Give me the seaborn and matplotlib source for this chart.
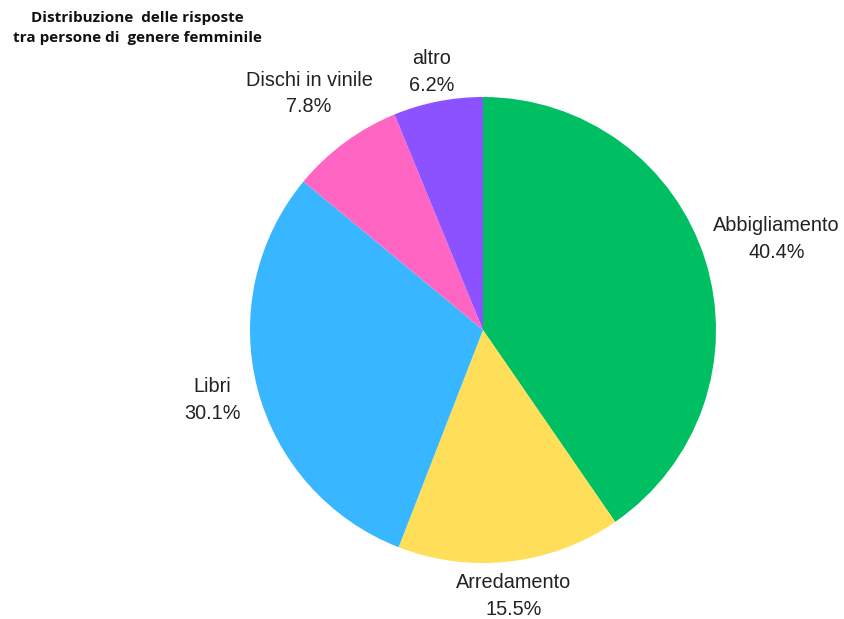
import numpy as np
import matplotlib
matplotlib.use("Agg")
import matplotlib.pyplot as plt
import seaborn as sns

# Dati (percentuali)
categorie = ["Abbigliamento", "Arredamento", "Libri", "Dischi in vinile", "altro"]
percentuali = [40.4, 15.5, 30.1, 7.8, 6.2]
colori = ["#00BF63", "#FFDE59", "#38B6FF", "#FF66C4", "#8C52FF"]

# distanza delle etichette dal centro (in raggi)
distanze = [1.32, 1.15, 1.2, 1.26, 1.13]

sns.set_theme(style="white")
plt.rcParams["font.family"] = ["Liberation Sans", "DejaVu Sans"]

fig = plt.figure(figsize=(8.45, 6.19), dpi=100)
cx, cy, r = 483, 330, 233
ax = fig.add_axes([(cx - r) / 845, (619 - cy - r) / 619, 2 * r / 845, 2 * r / 619])

wedges, _ = ax.pie(percentuali, colors=colori, startangle=90, counterclock=False,
                   radius=1, wedgeprops=dict(linewidth=0))
ax.set_xlim(-1, 1)
ax.set_ylim(-1, 1)
ax.set_aspect("equal")

for w, nome, p, d in zip(wedges, categorie, percentuali, distanze):
    ang = np.deg2rad((w.theta1 + w.theta2) / 2)
    ax.text(d * np.cos(ang), d * np.sin(ang), f"{nome}\n{p:.1f}%",
            ha="center", va="center", fontsize=14.3, color="#222222",
            linespacing=1.52, clip_on=False)

fig.text(137 / 845, 1 - 28 / 619, "Distribuzione  delle risposte\ntra persone di  genere femminile",
         ha="center", va="center", fontsize=11, fontweight="bold",
         family=["Open Sans", "DejaVu Sans"], color="#111111", linespacing=1.6)

fig.savefig("out.png", dpi=100, facecolor="white")
